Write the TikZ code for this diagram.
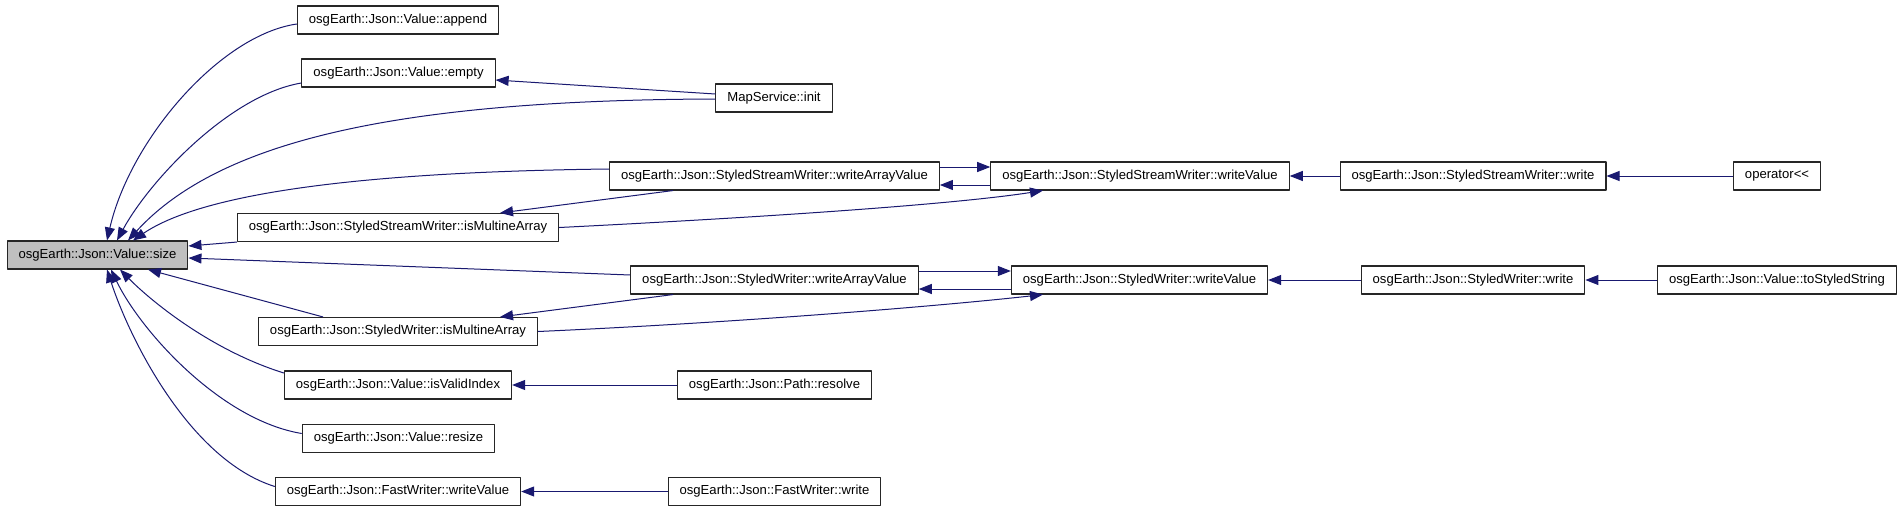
\documentclass[tikz,border=0pt]{standalone}
\usepackage{fontspec}
\setmainfont{Liberation Sans}
\usetikzlibrary{arrows.meta}
\definecolor{midnight}{HTML}{191970}
\definecolor{boxgray}{HTML}{BFBFBF}
\begin{document}
\begin{tikzpicture}[x=1pt, y=-1pt, >={Triangle[length=13pt,width=10pt]}, line join=round,
	fn/.style={draw=black!85, line width=1.1pt, fill=white, inner xsep=11.5pt, inner ysep=0pt, minimum height=28pt, font=\fontsize{13.1}{15}\selectfont},
	call/.style={->, draw=midnight, line width=1pt}]
	\useasboundingbox[fill=white] (0,0) rectangle (1904,512);
	\node[fn, fill=boxgray] (size) at (97.5,255) {osgEarth::Json::Value::size};
	\node[fn] (append) at (398,20) {osgEarth::Json::Value::append};
	\node[fn] (empty) at (398.5,73) {osgEarth::Json::Value::empty};
	\node[fn] (sswMulti) at (398,227.5) {osgEarth::Json::StyledStreamWriter::isMultineArray};
	\node[fn] (swMulti) at (398,331.5) {osgEarth::Json::StyledWriter::isMultineArray};
	\node[fn] (valid) at (398,385) {osgEarth::Json::Value::isValidIndex};
	\node[fn] (resize) at (398.5,438.5) {osgEarth::Json::Value::resize};
	\node[fn] (fwValue) at (398,491.5) {osgEarth::Json::FastWriter::writeValue};
	\node[fn] (init) at (774,98) {MapService::init};
	\node[fn] (sswArray) at (774.5,176) {osgEarth::Json::StyledStreamWriter::writeArrayValue};
	\node[fn] (swArray) at (774.5,280) {osgEarth::Json::StyledWriter::writeArrayValue};
	\node[fn] (resolve) at (774.5,385) {osgEarth::Json::Path::resolve};
	\node[fn] (fwWrite) at (774.5,491.5) {osgEarth::Json::FastWriter::write};
	\node[fn] (sswValue) at (1140,176) {osgEarth::Json::StyledStreamWriter::writeValue};
	\node[fn] (swValue) at (1139.5,280) {osgEarth::Json::StyledWriter::writeValue};
	\node[fn] (sswWrite) at (1473,176) {osgEarth::Json::StyledStreamWriter::write};
	\node[fn] (swWrite) at (1473,280) {osgEarth::Json::StyledWriter::write};
	\node[fn] (oplt) at (1777,176) {operator{<}{<}};
	\node[fn] (styled) at (1777,280) {osgEarth::Json::Value::toStyledString};

	\draw[call] ([yshift=-4pt]append.west) .. controls (220,35) and (130,140) .. ([xshift=9.5pt]size.north);
	\draw[call] ([yshift=-10pt]empty.west) .. controls (230,95) and (150,180) .. ([xshift=19.5pt]size.north);
	\draw[call] ([yshift=-1pt]init.west) .. controls (400,100) and (220,140) .. ([xshift=30.5pt]size.north);
	\draw[call] ([yshift=4pt]init.west) -- ([yshift=-7pt]empty.east);
	\draw[call] ([yshift=7pt]sswArray.west) .. controls (350,172) and (200,195) .. ([xshift=35.5pt]size.north);
	\draw[call] (sswMulti.south west) -- ([yshift=9pt]size.east);
	\draw[call] ([xshift=-101.5pt]sswArray.south) -- ([xshift=102pt]sswMulti.north);
	\draw[call] (sswMulti.east) .. controls (750,218) and (950,205) .. ([xshift=-97pt]sswValue.south);
	\draw[call] ([yshift=9pt]sswArray.east) -- ([yshift=9pt]sswValue.west);
	\draw[call] ([yshift=-9pt]sswValue.west) -- ([yshift=-9pt]sswArray.east);
	\draw[call] (sswWrite) -- (sswValue);
	\draw[call] (oplt) -- (sswWrite);
	\draw[call] ([yshift=5pt]swArray.west) -- ([yshift=-3pt]size.east);
	\draw[call] ([xshift=-75pt]swMulti.north) -- ([xshift=50.5pt]size.south);
	\draw[call] ([xshift=-101.5pt]swArray.south) -- ([xshift=102pt]swMulti.north);
	\draw[call] (swMulti.east) .. controls (750,322) and (950,305) .. ([xshift=-96.5pt]swValue.south);
	\draw[call] ([yshift=9pt]swArray.east) -- ([yshift=9pt]swValue.west);
	\draw[call] ([yshift=-9pt]swValue.west) -- ([yshift=-9pt]swArray.east);
	\draw[call] (swWrite) -- (swValue);
	\draw[call] (styled) -- (swWrite);
	\draw[call] ([yshift=12pt]valid.west) .. controls (210,350) and (150,300) .. ([xshift=22.5pt]size.south);
	\draw[call] (resolve) -- (valid);
	\draw[call] ([yshift=5pt]resize.west) .. controls (220,420) and (140,330) .. ([xshift=13.5pt]size.south);
	\draw[call] ([yshift=5pt]fwValue.west) .. controls (190,460) and (130,340) .. ([xshift=9.5pt]size.south);
	\draw[call] (fwWrite) -- (fwValue);
\end{tikzpicture}
\end{document}
